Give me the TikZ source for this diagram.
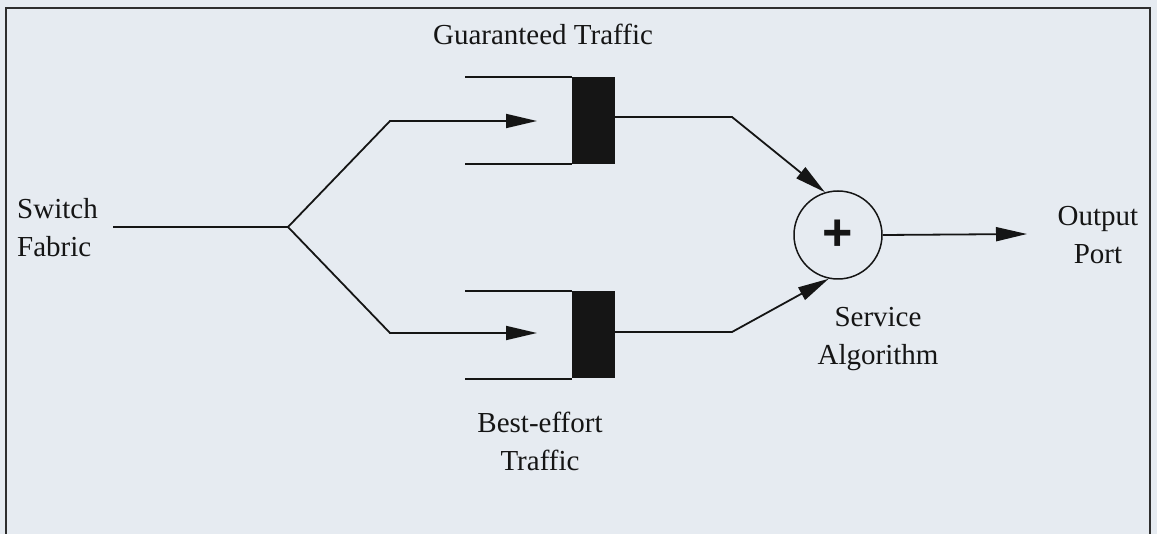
\documentclass[tikz,border=0pt]{standalone}
\usepackage{fontspec}
\setmainfont{Liberation Serif}
\newfontfamily\plusfont{Liberation Sans}
\usetikzlibrary{arrows.meta}
\definecolor{paper}{HTML}{E6EBF1}
\definecolor{framecol}{HTML}{2E2E2E}
\definecolor{ink}{HTML}{151515}
\begin{document}
\begin{tikzpicture}[x=1pt,y=-1pt,
  lbl/.style={font=\fontsize{29}{38}\selectfont, inner sep=0pt, align=center, text=ink},
  wire/.style={line width=1.8pt, draw=ink},
  flow/.style={wire, -{Triangle[length=31pt,width=14pt]}},
  queuebox/.style={fill=ink, draw=none, minimum width=43pt, minimum height=87pt, inner sep=0pt},
  adder/.style={circle, draw=ink, line width=1.5pt, minimum size=88pt, inner sep=0pt,
                font=\plusfont\bfseries\fontsize{52}{52}\selectfont, text=ink}]
  % page and frame
  \clip (0,0) rectangle (1157,534);
  \fill[paper] (0,0) rectangle (1157,534);
  \draw[framecol, line width=1.5pt] (6,540) -- (6,8) -- (1150,8) -- (1150,540);

  % labels
  \node[lbl, align=left, anchor=west] (sf) at (17,228) {Switch\\Fabric};
  \node[lbl, anchor=base] (gt) at (543,45) {Guaranteed Traffic};
  \node[lbl] (bt) at (540,441) {Best-effort\\Traffic};
  \node[lbl] (st) at (878,339) {Service\\Algorithm};
  \node[lbl] (op) at (1098,235) {Output\\Port};

  % queues
  \node[queuebox] (gq) at (593.5,120.5) {};
  \node[queuebox] (bq) at (593.5,335) {};
  \draw[wire] (gq.north west) -- ++(-107,0);
  \draw[wire] (gq.south west) -- ++(-107,0);
  \draw[wire] (bq.north west) -- ++(-107,0);
  \draw[wire] (bq.south west) -- ++(-107,0);

  % service algorithm
  \node[adder] (sa) at (838,235) {+};

  % routing points
  \coordinate (src) at (113,227);
  \coordinate (split) at (288,227);
  \coordinate (gbend) at (390,121);
  \coordinate (bbend) at (390,333);
  \coordinate (gin) at (537,121);
  \coordinate (bin) at (537,333);
  \coordinate (gout) at (615,117);
  \coordinate (bout) at (615,332);
  \coordinate (gmid) at (732,117);
  \coordinate (bmid) at (732,332);
  \coordinate (dest) at (1027,234);

  % connectors
  \draw[wire] (src) -- (split);
  \draw[flow] (split) -- (gbend) -- (gin);
  \draw[flow] (split) -- (bbend) -- (bin);
  \draw[flow] (gout) -- (gmid) -- (sa.107);
  \draw[flow] (bout) -- (bmid) -- (sa.258);
  \draw[flow] (sa.east) -- (dest);
\end{tikzpicture}
\end{document}
